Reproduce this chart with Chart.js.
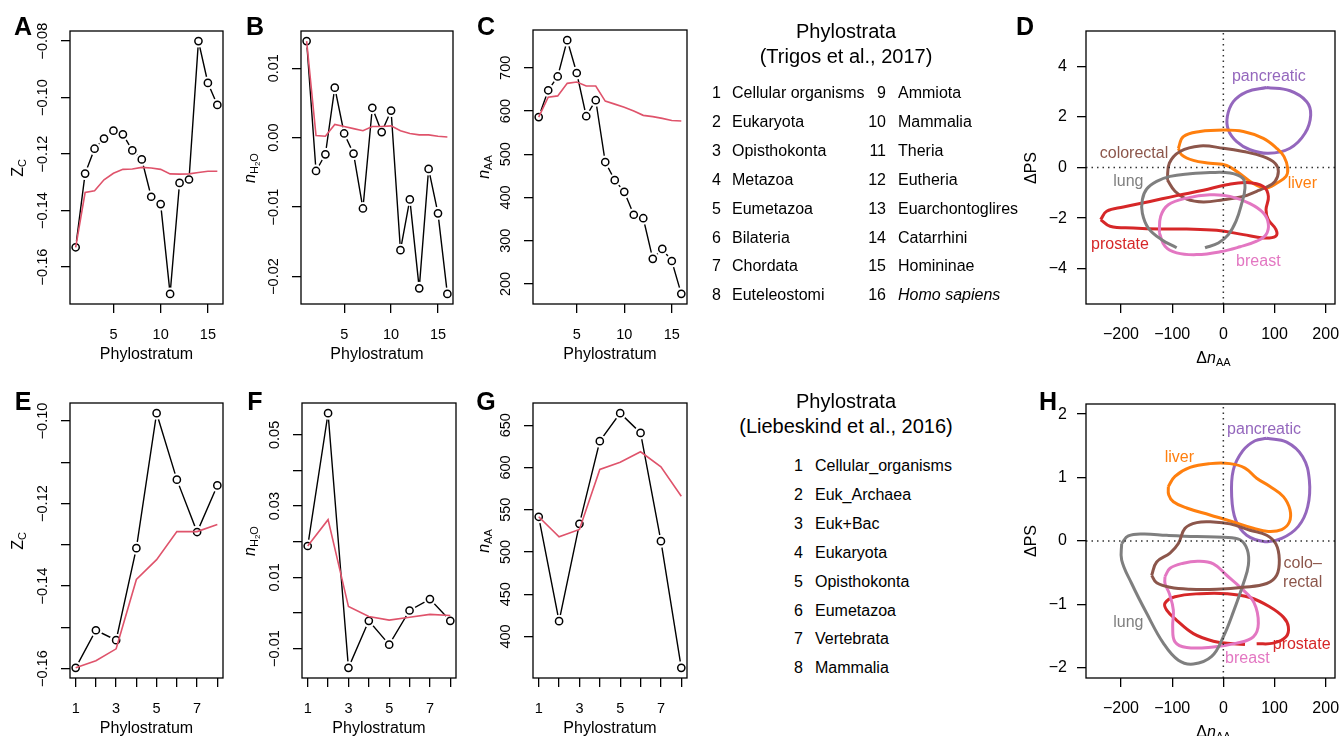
<!DOCTYPE html>
<html>
<head>
<meta charset="utf-8">
<script src="https://cdn.jsdelivr.net/npm/chart.js@4.4.1/dist/chart.umd.min.js"></script>
<style>
    body { margin: 0; width: 1341px; height: 736px; overflow: hidden; position: relative; background: #fff; color: #000;
           font-family: "Liberation Sans", Arial, Helvetica, sans-serif; }
    canvas { position: absolute; }
    .t { position: absolute; transform: translate(-50%, -50%); white-space: nowrap; line-height: 1; }
    .rot { transform: translate(-50%, -50%) rotate(-90deg); }
    .letter { font-weight: bold; font-size: 25px; }
    .lab { font-size: 16px; }
    .title { font-size: 20px; }
    sub { font-size: 11px; vertical-align: -3px; line-height: 0; }
    sub sub { font-size: 8px; vertical-align: -2px; }
    .leg { position: absolute; font-size: 16px; line-height: 1; white-space: nowrap; transform: translateY(-50%); }
    .num { text-align: right; transform: translate(-100%, -50%); }
</style>
</head>
<body>
<script>
// DATA: PHYLOSTRATA (Trigos et al., 2017)
const strataTrigos = [1, 2, 3, 4, 5, 6, 7, 8, 9, 10, 11, 12, 13, 14, 15, 16];
const zcTrigos = [-0.1530, -0.1269, -0.1181, -0.1145, -0.1117, -0.1130, -0.1187, -0.1219, -0.1351, -0.1377, -0.1695, -0.1302, -0.1290, -0.0800, -0.0948, -0.1026];
const zcTrigosRef = [-0.1530, -0.1336, -0.1330, -0.1291, -0.1268, -0.1254, -0.1253, -0.1247, -0.1249, -0.1254, -0.1270, -0.1271, -0.1270, -0.1265, -0.1261, -0.1261];
const nh2oTrigos = [0.0139, -0.0048, -0.0024, 0.0072, 0.0006, -0.0023, -0.0102, 0.0043, 0.0008, 0.0039, -0.0162, -0.0089, -0.0217, -0.0045, -0.0109, -0.0225];
const nh2oTrigosRef = [0.0139, 0.0003, 0.0002, 0.0019, 0.0016, 0.0013, 0.0010, 0.0016, 0.0016, 0.0017, 0.0010, 0.0006, 0.0004, 0.0004, 0.0002, 0.0001];
const naaTrigos = [586, 648, 680, 764, 688, 588, 625, 482, 440, 413, 360, 352, 258, 281, 253, 177];
const naaTrigosRef = [586, 632, 635, 664, 667, 658, 658, 623, 616, 609, 600, 590, 587, 583, 578, 577];

// DATA: PHYLOSTRATA (Liebeskind et al., 2016)
const strataLieb = [1, 2, 3, 4, 5, 6, 7, 8];
const zcLieb = [-0.1598, -0.1507, -0.1531, -0.1308, -0.0981, -0.1142, -0.1269, -0.1156];
const zcLiebRef = [-0.1598, -0.1581, -0.1552, -0.1384, -0.1336, -0.1268, -0.1268, -0.1251];
const nh2oLieb = [0.0188, 0.0561, -0.0154, -0.0022, -0.0089, 0.0007, 0.0039, -0.0022];
const nh2oLiebRef = [0.0188, 0.0262, 0.0018, -0.0010, -0.0020, -0.0012, -0.0004, -0.0007];
const naaLieb = [541.6, 418.1, 533.3, 631.1, 664.2, 640.9, 512.8, 362.9];
const naaLiebRef = [541.6, 517.9, 526.6, 597.6, 606.2, 618.5, 600.7, 566.0];

// TICKS
const ticks16 = [5, 10, 15];
const ticks16Labels = ['5', '10', '15'];
const ticks8 = [1, 2, 3, 4, 5, 6, 7, 8];
const ticks8Labels = ['1', '', '3', '', '5', '', '7', ''];
const zcTrigosTicks = [-0.16, -0.14, -0.12, -0.10, -0.08];
const zcTrigosLabels = ['−0.16', '−0.14', '−0.12', '−0.10', '−0.08'];
const nh2oTrigosTicks = [-0.02, -0.01, 0, 0.01];
const nh2oTrigosLabels = ['−0.02', '−0.01', '0.00', '0.01'];
const naaTrigosTicks = [200, 300, 400, 500, 600, 700];
const naaTrigosLabels = ['200', '300', '400', '500', '600', '700'];
const zcLiebTicks = [-0.16, -0.15, -0.14, -0.13, -0.12, -0.11, -0.10];
const zcLiebLabels = ['−0.16', '', '−0.14', '', '−0.12', '', '−0.10'];
const nh2oLiebTicks = [-0.01, 0, 0.01, 0.02, 0.03, 0.04, 0.05];
const nh2oLiebLabels = ['−0.01', '', '0.01', '', '0.03', '', '0.05'];
const naaLiebTicks = [400, 450, 500, 550, 600, 650];
const naaLiebLabels = ['400', '450', '500', '550', '600', '650'];
const dnaaTicks = [-200, -100, 0, 100, 200];
const dnaaLabels = ['−200', '−100', '0', '100', '200'];
const dpsTicksD = [-4, -2, 0, 2, 4];
const dpsLabelsD = ['−4', '−2', '0', '2', '4'];
const dpsTicksH = [-2, -1, 0, 1, 2];
const dpsLabelsH = ['−2', '−1', '0', '1', '2'];

// DATA: DENSITY CONTOURS, panel D ([ΔnAA, ΔPS])
const dPancreatic = [[84.7, 3.16], [130.3, 3.03], [162.9, 2.60], [170.7, 2.07], [159.6, 1.35], [130.3, 0.76], [87.9, 0.56], [52.1, 0.70], [26.1, 1.02], [9.8, 1.48], [7.8, 2.01], [19.5, 2.60], [45.6, 2.99]];
const dLiver = [[-87.9, 0.76], [-78.2, 1.22], [-45.6, 1.42], [0, 1.48], [39.1, 1.42], [78.2, 1.15], [104.2, 0.76], [118.6, 0.43], [125.7, -0.03], [122.5, -0.35], [104.2, -0.62], [81.4, -0.81], [55.4, -0.59], [29.3, -0.20], [6.5, 0.08], [-26.1, 0.17], [-58.6, 0.28], [-81.4, 0.50]];
const dColorectal = [[-109.4, -0.49], [-105.5, 0.17], [-84.7, 0.63], [-45.6, 0.85], [0, 0.76], [39.1, 0.63], [78.2, 0.43], [101.0, 0.17], [107.5, -0.16], [101.0, -0.55], [84.7, -0.77], [65.1, -0.94], [39.1, -1.14], [0, -1.27], [-39.1, -1.36], [-71.7, -1.25], [-94.5, -0.94]];
const dLung = [[-91.2, -3.17], [-120.5, -2.85], [-146.6, -2.39], [-158.3, -1.80], [-158.3, -1.27], [-149.8, -0.85], [-130.3, -0.55], [-104.2, -0.35], [-65.1, -0.25], [-26.1, -0.20], [13.0, -0.22], [37.8, -0.42], [42.3, -0.81], [35.8, -1.43], [24.8, -2.12], [9.8, -2.65], [-9.8, -2.98], [-35.8, -3.17]];
const dBreast = [[-125.1, -2.58], [-122.5, -1.93], [-107.5, -1.47], [-71.7, -1.21], [-26.1, -1.08], [13.0, -1.14], [52.1, -1.43], [78.2, -1.80], [87.9, -2.22], [83.4, -2.65], [65.1, -2.91], [32.6, -3.13], [-6.5, -3.33], [-52.1, -3.44], [-91.2, -3.37], [-114.0, -3.11]];
const dProstate = [[-239.7, -2.06], [-228.0, -1.73], [-195.4, -1.56], [-143.3, -1.34], [-91.2, -1.11], [-39.1, -0.90], [6.5, -0.68], [45.6, -0.59], [78.2, -0.75], [88.0, -1.14], [83.4, -1.67], [87.9, -2.06], [102.9, -2.45], [102.3, -2.71], [78.2, -2.78], [39.1, -2.65], [-13.0, -2.48], [-71.7, -2.43], [-123.8, -2.43], [-175.9, -2.39], [-221.5, -2.32]];

// DATA: DENSITY CONTOURS, panel H
const hPancreatic = [[84.7, 1.62], [123.8, 1.56], [155.0, 1.33], [168.1, 0.96], [164.8, 0.54], [146.6, 0.23], [114.0, 0.04], [81.4, -0.01], [45.6, 0.09], [24.1, 0.33], [16.3, 0.70], [19.5, 1.12], [37.8, 1.42], [61.9, 1.58]];
const hLiver = [[-107.5, 0.86], [-94.5, 1.02], [-65.1, 1.16], [-26.1, 1.22], [13.0, 1.22], [42.3, 1.15], [65.1, 0.99], [91.2, 0.86], [117.3, 0.70], [130.3, 0.49], [129.0, 0.30], [114.0, 0.18], [87.9, 0.15], [58.6, 0.20], [19.5, 0.30], [-26.1, 0.41], [-71.7, 0.52], [-97.7, 0.62], [-106.8, 0.73]];
const hColorectal = [[-140.1, -0.54], [-130.3, -0.33], [-104.2, -0.19], [-87.9, -0.04], [-74.9, 0.20], [-52.1, 0.29], [-19.5, 0.30], [13.0, 0.27], [52.1, 0.17], [84.7, 0.09], [102.9, -0.05], [109.4, -0.30], [104.2, -0.54], [84.7, -0.67], [39.1, -0.73], [-13.0, -0.76], [-65.1, -0.76], [-104.2, -0.73], [-130.3, -0.66]];
const hLung = [[-198.7, -0.04], [-185.7, 0.08], [-156.4, 0.11], [-110.7, 0.09], [-52.1, 0.07], [0, 0.06], [32.6, 0.02], [46.9, -0.14], [48.9, -0.38], [39.1, -0.67], [20.8, -1.09], [0, -1.51], [-22.8, -1.82], [-58.6, -1.94], [-87.9, -1.88], [-117.3, -1.61], [-149.8, -1.14], [-179.2, -0.67], [-198.7, -0.30]];
const hBreast = [[-114.0, -0.56], [-104.2, -0.43], [-78.2, -0.35], [-48.9, -0.32], [-19.5, -0.36], [6.5, -0.54], [35.8, -0.75], [59.9, -0.97], [68.4, -1.30], [58.6, -1.51], [26.1, -1.61], [-19.5, -1.67], [-71.7, -1.68], [-94.5, -1.59], [-99.0, -1.35], [-97.7, -1.09], [-105.5, -0.83], [-114.0, -0.67]];
const hProstate = [[65.1, -1.62], [97.7, -1.61], [122.5, -1.51], [127.0, -1.35], [117.3, -1.20], [91.2, -1.04], [52.1, -0.89], [6.5, -0.83], [-45.6, -0.83], [-94.5, -0.88], [-114.0, -0.98], [-110.7, -1.09], [-91.2, -1.25], [-58.6, -1.46], [-19.5, -1.58], [19.5, -1.62], [42.3, -1.63]];

// LEGEND TEXT
const trigosTaxa = ['Cellular organisms', 'Eukaryota', 'Opisthokonta', 'Metazoa', 'Eumetazoa', 'Bilateria', 'Chordata', 'Euteleostomi',
    'Ammiota', 'Mammalia', 'Theria', 'Eutheria', 'Euarchontoglires', 'Catarrhini', 'Homininae', 'Homo sapiens'];
const liebTaxa = ['Cellular_organisms', 'Euk_Archaea', 'Euk+Bac', 'Eukaryota', 'Opisthokonta', 'Eumetazoa', 'Vertebrata', 'Mammalia'];

// COLOURS
const RED = '#DF536B';
const C = { pancreatic: '#9467BD', liver: '#FF7F0E', colorectal: '#8C564B', lung: '#7F7F7F', breast: '#E377C2', prostate: '#D62728' };
const FONT = '"Liberation Sans", Arial, Helvetica, sans-serif';

// R-STYLE AXES PLUGIN (frame, tick labels, contour labels)
function rAxes(cfg) {
    return {
        id: 'rAxes',
        afterDraw(chart) {
            const ctx = chart.ctx, a = chart.chartArea;
            const xs = chart.scales.x, ys = chart.scales.y;
            ctx.save();
            ctx.fillStyle = '#000';
            ctx.font = cfg.size + 'px ' + FONT;
            ctx.textBaseline = 'middle';
            ctx.textAlign = 'center';
            cfg.xTicks.forEach((v, i) => {
                if (cfg.xLabels[i]) ctx.fillText(cfg.xLabels[i], xs.getPixelForValue(v), a.bottom + 31);
            });
            cfg.yTicks.forEach((v, i) => {
                const lab = cfg.yLabels[i];
                if (!lab) return;
                const py = ys.getPixelForValue(v);
                if (cfg.yHoriz) {
                    ctx.textAlign = 'right';
                    ctx.fillText(lab, a.left - 19, py);
                } else {
                    ctx.save();
                    ctx.translate(a.left - 27, py);
                    ctx.rotate(-Math.PI / 2);
                    ctx.textAlign = 'center';
                    ctx.fillText(lab, 0, 0);
                    ctx.restore();
                }
            });
            ctx.font = '16px ' + FONT;
            ctx.textAlign = 'center';
            (cfg.notes || []).forEach(n => {
                ctx.fillStyle = n.color;
                ctx.fillText(n.text, xs.getPixelForValue(n.x), ys.getPixelForValue(n.y));
            });
            ctx.strokeStyle = '#000';
            ctx.lineWidth = 1.3;
            ctx.strokeRect(a.left, a.top, a.right - a.left, a.bottom - a.top);
            ctx.restore();
        }
    };
}

function axis(min, max, ticks, prop, size) {
    return {
        type: 'linear', min, max,
        afterFit: s => { s[prop] = size; },
        afterBuildTicks: s => { s.ticks = ticks.map(v => ({ value: v })); },
        ticks: { display: false },
        grid: { drawOnChartArea: false, drawTicks: true, tickLength: 9, color: '#000', lineWidth: 1.3 },
        border: { display: false }
    };
}

function padRange(arrs) {
    const all = [].concat(...arrs);
    const lo = Math.min(...all), hi = Math.max(...all), p = (hi - lo) * 0.04;
    return [lo - p, hi + p];
}

function makePanel(box, xr, yr, datasets, cfg) {
    const c = document.createElement('canvas');
    const w = box.r - box.l + 80, h = box.b - box.t + 70;
    c.width = w; c.height = h;
    c.style.left = (box.l - 60) + 'px';
    c.style.top = (box.t - 20) + 'px';
    c.style.width = w + 'px';
    c.style.height = h + 'px';
    document.body.appendChild(c);
    new Chart(c.getContext('2d'), {
        type: 'scatter',
        data: { datasets },
        options: {
            responsive: false,
            animation: false,
            layout: { padding: { left: 0, top: 20, right: 20, bottom: 0 } },
            scales: {
                x: axis(xr[0], xr[1], cfg.xTicks, 'height', 50),
                y: axis(yr[0], yr[1], cfg.yTicks, 'width', 60)
            },
            plugins: { legend: { display: false }, tooltip: { enabled: false } }
        },
        plugins: [rAxes(cfg)]
    });
}

// observed series with R type="b" gaps, plus the red reference line
function seriesSets(xs, obs, ref) {
    const pts = obs.map((v, i) => ({ x: xs[i], y: v }));
    const rpts = ref.map((v, i) => ({ x: xs[i], y: v }));
    return [
        { data: pts, showLine: true, borderColor: '#000', borderWidth: 1.4, pointRadius: 0, order: 4 },
        { data: pts, showLine: false, pointRadius: 6.5, pointBackgroundColor: '#fff', pointBorderWidth: 0, pointBorderColor: '#fff', order: 3, clip: 0 },
        { data: pts, showLine: false, pointRadius: 3.6, pointBackgroundColor: 'rgba(0,0,0,0)', pointBorderColor: '#000', pointBorderWidth: 1.5, order: 2 },
        { data: rpts, showLine: true, borderColor: RED, borderWidth: 1.6, pointRadius: 0, order: 1 }
    ];
}

function contour(pts, color, closed) {
    const d = pts.map(p => ({ x: p[0], y: p[1] }));
    if (closed) d.push({ x: pts[0][0], y: pts[0][1] });
    return { data: d, showLine: true, borderColor: color, borderWidth: 3, pointRadius: 0, tension: 0.4, clip: 0 };
}

function zeroLines(xr, yr) {
    const s = { showLine: true, borderColor: '#333', borderWidth: 1.5, borderDash: [1.5, 4], pointRadius: 0 };
    return [
        Object.assign({ data: [{ x: 0, y: yr[0] }, { x: 0, y: yr[1] }] }, s),
        Object.assign({ data: [{ x: xr[0], y: 0 }, { x: xr[1], y: 0 }] }, s)
    ];
}

// PANEL BOXES (plot region in page pixels)
const boxes = {
    A: { l: 70, t: 31, r: 223, b: 304 }, B: { l: 301, t: 31, r: 453, b: 304 },
    C: { l: 533, t: 30, r: 687, b: 304 }, D: { l: 1086, t: 31, r: 1335, b: 304 },
    E: { l: 70, t: 403, r: 223, b: 678 }, F: { l: 302, t: 403, r: 456, b: 678 },
    G: { l: 533, t: 403, r: 687, b: 678 }, H: { l: 1086, t: 404, r: 1335, b: 678 }
};

const x16 = [0.4, 16.6], x8 = [0.72, 8.28];

makePanel(boxes.A, x16, padRange([zcTrigos, zcTrigosRef]), seriesSets(strataTrigos, zcTrigos, zcTrigosRef),
    { size: 14.5, xTicks: ticks16, xLabels: ticks16Labels, yTicks: zcTrigosTicks, yLabels: zcTrigosLabels });
makePanel(boxes.B, x16, padRange([nh2oTrigos, nh2oTrigosRef]), seriesSets(strataTrigos, nh2oTrigos, nh2oTrigosRef),
    { size: 14.5, xTicks: ticks16, xLabels: ticks16Labels, yTicks: nh2oTrigosTicks, yLabels: nh2oTrigosLabels });
makePanel(boxes.C, x16, padRange([naaTrigos, naaTrigosRef]), seriesSets(strataTrigos, naaTrigos, naaTrigosRef),
    { size: 14.5, xTicks: ticks16, xLabels: ticks16Labels, yTicks: naaTrigosTicks, yLabels: naaTrigosLabels });
makePanel(boxes.E, x8, padRange([zcLieb, zcLiebRef]), seriesSets(strataLieb, zcLieb, zcLiebRef),
    { size: 14.5, xTicks: ticks8, xLabels: ticks8Labels, yTicks: zcLiebTicks, yLabels: zcLiebLabels });
makePanel(boxes.F, x8, padRange([nh2oLieb, nh2oLiebRef]), seriesSets(strataLieb, nh2oLieb, nh2oLiebRef),
    { size: 14.5, xTicks: ticks8, xLabels: ticks8Labels, yTicks: nh2oLiebTicks, yLabels: nh2oLiebLabels });
makePanel(boxes.G, x8, padRange([naaLieb, naaLiebRef]), seriesSets(strataLieb, naaLieb, naaLiebRef),
    { size: 14.5, xTicks: ticks8, xLabels: ticks8Labels, yTicks: naaLiebTicks, yLabels: naaLiebLabels });

const dX = [-268.4, 218.2], dY = [-5.39, 5.39], hY = [-2.16, 2.16];
makePanel(boxes.D, dX, dY, zeroLines(dX, dY).concat([
    contour(dLung, C.lung, false), contour(dBreast, C.breast, true), contour(dProstate, C.prostate, true),
    contour(dColorectal, C.colorectal, true), contour(dLiver, C.liver, true), contour(dPancreatic, C.pancreatic, true)
]), {
    size: 16, yHoriz: true, xTicks: dnaaTicks, xLabels: dnaaLabels, yTicks: dpsTicksD, yLabels: dpsLabelsD,
    notes: [
        { text: 'pancreatic', x: 89, y: 3.6, color: C.pancreatic }, { text: 'colorectal', x: -174.6, y: 0.56, color: C.colorectal },
        { text: 'lung', x: -185.7, y: -0.55, color: C.lung }, { text: 'liver', x: 154.4, y: -0.64, color: C.liver },
        { text: 'prostate', x: -202, y: -3.04, color: C.prostate }, { text: 'breast', x: 68.4, y: -3.70, color: C.breast }
    ]
});
makePanel(boxes.H, dX, hY, zeroLines(dX, hY).concat([
    contour(hColorectal, C.colorectal, true), contour(hLung, C.lung, true), contour(hBreast, C.breast, true),
    contour(hProstate, C.prostate, false), contour(hLiver, C.liver, true), contour(hPancreatic, C.pancreatic, true)
]), {
    size: 16, yHoriz: true, xTicks: dnaaTicks, xLabels: dnaaLabels, yTicks: dpsTicksH, yLabels: dpsLabelsH,
    notes: [
        { text: 'pancreatic', x: 79.5, y: 1.75, color: C.pancreatic }, { text: 'liver', x: -86, y: 1.32, color: C.liver },
        { text: 'colo–', x: 155, y: -0.35, color: C.colorectal }, { text: 'rectal', x: 155, y: -0.66, color: C.colorectal },
        { text: 'lung', x: -185.7, y: -1.29, color: C.lung }, { text: 'prostate', x: 153, y: -1.63, color: C.prostate },
        { text: 'breast', x: 46.9, y: -1.85, color: C.breast }
    ]
});

// TEXT: panel letters and axis titles
function put(html, x, y, cls) {
    const d = document.createElement('div');
    d.className = 't ' + cls;
    d.innerHTML = html;
    d.style.left = x + 'px';
    d.style.top = y + 'px';
    document.body.appendChild(d);
}

[['A', 23, 26], ['B', 255, 26], ['C', 486, 26], ['D', 1025, 26],
 ['E', 23, 401], ['F', 255, 401], ['G', 486, 401], ['H', 1048, 401]].forEach(p => put(p[0], p[1], p[2], 'letter'));

const yTitles = {
    A: ['Z<sub>C</sub>', 18], B: ['<i>n</i><sub>H<sub>2</sub>O</sub>', 250], C: ['<i>n</i><sub>AA</sub>', 484],
    E: ['Z<sub>C</sub>', 18], F: ['<i>n</i><sub>H<sub>2</sub>O</sub>', 250], G: ['<i>n</i><sub>AA</sub>', 484],
    D: ['ΔPS', 1031], H: ['ΔPS', 1031]
};
Object.keys(yTitles).forEach(k => {
    const b = boxes[k];
    put(yTitles[k][0], yTitles[k][1], (b.t + b.b) / 2, 'lab rot');
    const xt = (k === 'D' || k === 'H') ? 'Δ<i>n</i><sub>AA</sub>' : 'Phylostratum';
    put(xt, (b.l + b.r) / 2 + ((k === 'D' || k === 'H') ? 3 : 0), b.b + ((k === 'D' || k === 'H') ? 54 : 50), 'lab');
});

// LEGENDS
function legend(titleLines, titleY, taxa, cols) {
    titleLines.forEach((s, i) => put(s, 846, titleY + i * 24.5, 'title'));
    taxa.forEach((name, i) => {
        const col = cols[Math.floor(i / 8)];
        const y = col.y + (i % 8) * 28.9;
        const n = document.createElement('div');
        n.className = 'leg num';
        n.textContent = String(i + 1);
        n.style.left = col.num + 'px';
        n.style.top = y + 'px';
        document.body.appendChild(n);
        const t = document.createElement('div');
        t.className = 'leg';
        if (name === 'Homo sapiens') t.style.fontStyle = 'italic';
        t.textContent = name;
        t.style.left = col.name + 'px';
        t.style.top = y + 'px';
        document.body.appendChild(t);
    });
}

legend(['Phylostrata', '(Trigos et al., 2017)'], 31, trigosTaxa,
    [{ num: 721, name: 732, y: 93 }, { num: 886, name: 898, y: 93 }]);
legend(['Phylostrata', '(Liebeskind et al., 2016)'], 401, liebTaxa,
    [{ num: 803, name: 815, y: 466 }]);
</script>
</body>
</html>
